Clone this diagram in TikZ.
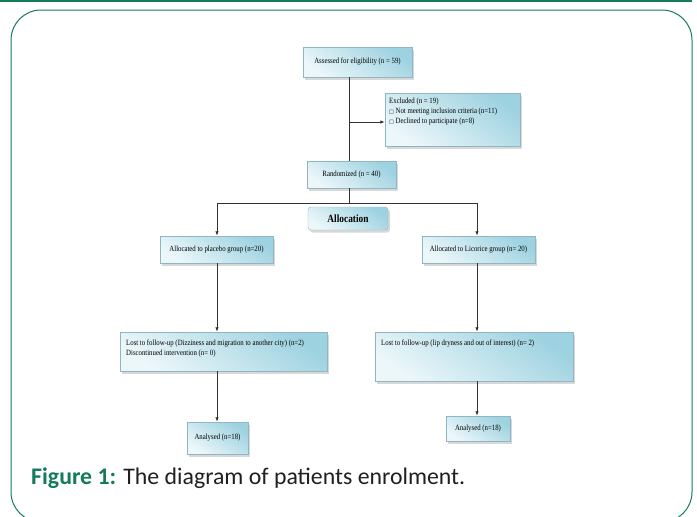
\documentclass[tikz,border=0pt]{standalone}
\usepackage{fontspec}
\usetikzlibrary{arrows.meta,shadows,fit}
\newfontfamily\boxfont[FakeStretch=0.85]{Liberation Serif}
\newfontfamily\capfont{Carlito}
\newfontfamily\symfont{DejaVu Sans}
\definecolor{figgreen}{HTML}{167A5C}
\definecolor{boxdark}{HTML}{9DD2E0}
\definecolor{boxlight}{HTML}{ECF7FA}
\definecolor{boxborder}{HTML}{8FB6C2}
\definecolor{linecol}{HTML}{333333}
\definecolor{captext}{HTML}{231F20}
\tikzset{
  box/.style={draw=boxborder, line width=0.4pt, top color=boxdark, bottom color=boxlight,
    shading angle=-35, inner sep=0pt,
    drop shadow={shadow xshift=2pt, shadow yshift=-2.5pt, fill=black!30}},
  btxt/.style={font=\boxfont\fontsize{8}{10}\selectfont, inner sep=0pt, align=left, text=black},
  conn/.style={draw=linecol, line width=0.8pt},
  arr/.style={conn, -{Latex[length=4.5pt,width=3.5pt]}},
}
\begin{document}
\begin{tikzpicture}[x=1pt,y=-1pt]
\clip (0,0) rectangle (697,517);
\fill[white] (0,0) rectangle (697,517);
% frame
\draw[figgreen, line width=1.3pt] (0,1) -- (692,1);
\draw[figgreen, line width=1pt, rounded corners=30pt] (11,10) rectangle (692,522);
% boxes
\node[box, fit={(303,47)(412,77)}] (assess) {};
\node[btxt] at (assess.center) {Assessed for eligibility (n = 59)};
\node[box, fit={(385,93)(520,146)}] (excl) {};
\node[btxt, anchor=north west] at (389,98) {Excluded (n = 19)\\
{\symfont\fontsize{5}{5}\selectfont □}\ Not meeting inclusion criteria (n=11)\\
{\symfont\fontsize{5}{5}\selectfont □}\ Declined to participate (n=8)};
\node[box, fit={(307,161)(396,188)}] (rand) {};
\node[btxt] at (rand.center) {Randomized (n = 40)};
\node[box, rounded corners=3pt, fit={(308,207)(388,230)}] (alloc) {};
\node[btxt, font=\boxfont\bfseries\fontsize{11}{13}\selectfont] at (alloc.center) {Allocation};
\node[box, fit={(160,236)(273,263)}] (plac) {};
\node[btxt] at (plac.center) {Allocated to placebo group (n=20)};
\node[box, fit={(422,236)(535,263)}] (lic) {};
\node[btxt] at (lic.center) {Allocated to Licorice group (n= 20)};
\node[box, fit={(120,332)(327,371)}] (lostL) {};
\node[btxt, anchor=north west] at (126,340) {Lost to follow-up (Dizziness and migration to another city) (n=2)\\
Discontinued intervention (n= 0)};
\node[box, fit={(375,332)(573,381)}] (lostR) {};
\node[btxt, anchor=north west] at (381,340) {Lost to follow-up (lip dryness and out of interest) (n= 2)};
\node[box, fit={(187,422)(248,454)}] (anL) {};
\node[btxt] at (anL.center) {Analysed (n=18)};
\node[box, fit={(446,416)(510,441)}] (anR) {};
\node[btxt] at (anR.center) {Analysed (n=18)};
% connectors
\coordinate (spine) at (349,0);
\coordinate (j1) at (349,122);
\coordinate (j2) at (349,203);
\coordinate (bl) at (217,203);
\coordinate (br) at (477,203);
\draw[conn] (assess.south -| spine) -- (rand.north -| spine);
\draw[arr] (j1) -- (excl.west |- j1);
\draw[conn] (rand.south -| spine) -- (j2);
\draw[conn] (bl) -- (br);
\draw[arr] (bl) -- (bl |- plac.north);
\draw[arr] (br) -- (br |- lic.north);
\draw[arr] (bl |- plac.south) -- (bl |- lostL.north);
\draw[arr] (bl |- lostL.south) -- (bl |- anL.north);
\draw[arr] (br |- lic.south) -- (br |- lostR.north);
\draw[arr] (br |- lostR.south) -- (br |- anR.north);
% caption
\node[anchor=base west, inner sep=0pt, text=captext, font=\capfont\fontsize{23.8}{27}\selectfont] (cap) at (31,484)
  {{\bfseries\color{figgreen}Figure 1:} The diagram of patients enrolment.};
\end{tikzpicture}
\end{document}
